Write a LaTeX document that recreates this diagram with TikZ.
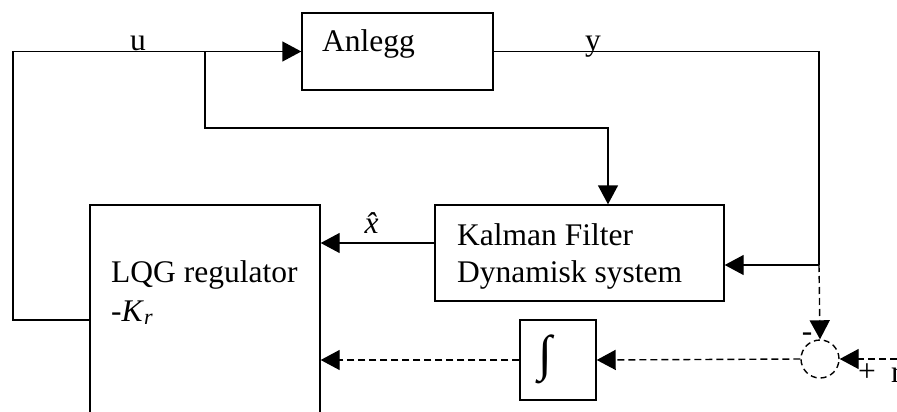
\documentclass[tikz,border=0pt]{standalone}
\usepackage{fontspec}
\setmainfont{Liberation Serif}
\usepackage{tikz}
\usetikzlibrary{arrows.meta}
\tikzstyle{blk}=[rectangle,draw,line width=1.4pt,inner sep=0pt]
\tikzstyle{lbl}=[inner sep=0pt,anchor=base west,font=\fontsize{31.5}{37}\selectfont]
\tikzstyle{wire}=[line width=1.4pt]
\tikzstyle{arr}=[wire,-{Triangle[length=19pt,width=20pt]}]
\tikzstyle{darr}=[arr,dash pattern=on 7pt off 4pt]

\begin{document}
\begin{tikzpicture}[x=1pt,y=-1pt]
  \useasboundingbox (0,0) rectangle (897,412);
  \clip (0,0) rectangle (897,412);
  % blocks
  \node[blk,minimum width=191pt,minimum height=77pt] (anlegg) at (397.5,51.5) {};
  \node[blk,minimum width=289pt,minimum height=96pt] (kalman) at (579.5,253) {};
  \node[blk,minimum width=230pt,minimum height=235pt] (lqg) at (205,322.5) {};
  \node[blk,minimum width=76pt,minimum height=80pt] (integ) at (558,360) {};
  \node[circle,draw,wire,dash pattern=on 6pt off 4pt,minimum size=38pt,inner sep=0pt] (sum) at (820,359) {};
  % texts
  \node[lbl] (anleggtxt) at (322,52) {Anlegg};
  \node[lbl] (kalmantxt) at (457,245) {Kalman Filter};
  \node[lbl] (dyntxt) at (457,282) {Dynamisk system};
  \node[lbl] (lqgtxt) at (111,282) {LQG regulator};
  \node[lbl] (krtxt) at (111,321) {-\textit{K}\textsubscript{\textit{r}}};
  \node[lbl,anchor=center,font=\fontsize{50}{50}\selectfont] (inttxt) at (545,359) {\char"222B};
  \node[lbl] (ulbl) at (130,51) {u};
  \node[lbl] (ylbl) at (585,51) {y};
  \node[lbl,anchor=center] (minus) at (807,337) {-};
  \node[lbl,anchor=center] (plus) at (867,373) {+};
  \node[lbl] (rlbl) at (891,382) {r};
  % connectors
  \coordinate (uout) at (90,320);
  \coordinate (ubr) at (205,51.5);
  \coordinate (ybr) at (819,265);
  \coordinate (xin) at ([yshift=10pt]kalman.west);
  \coordinate (rin) at (897,359);
  \draw[arr] (uout) -- (13,320) -- (13,51.5) -- (anlegg.west);
  \draw[arr] (ubr) |- (608,128) -- ([xshift=28.5pt]kalman.north);
  \draw[wire] (anlegg.east) -| (ybr);
  \draw[arr] (ybr) -- (ybr -| kalman.east);
  \draw[arr] (xin) -- (xin -| lqg.east)
    node[midway,above=9pt,font=\fontsize{31.5}{37}\selectfont,inner sep=0pt] {\textit{\^{x}}};
  \draw[darr] (ybr) -- (sum.north);
  \draw[darr] (rin) -- (sum.east);
  \draw[darr] (sum.west) -- (integ.east);
  \draw[darr] (integ.west) -- (integ.west -| lqg.east);
\end{tikzpicture}
\end{document}
